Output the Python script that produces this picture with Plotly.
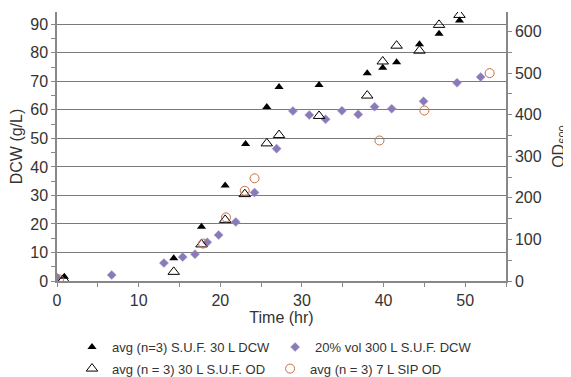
import plotly.graph_objects as go

# avg (n=3) S.U.F. 30 L DCW  (left axis)
suf_dcw_t = [0.9, 14.3, 17.7, 20.6, 23.1, 25.7, 27.2, 32.1, 38.0, 39.9, 41.6, 44.4, 46.8, 49.3]
suf_dcw_v = [1.5, 8.0, 19.0, 33.5, 48.0, 61.0, 68.0, 68.7, 72.8, 74.8, 76.7, 83.0, 86.7, 91.3]

# 20% vol 300 L S.U.F. DCW (left axis)
vol_dcw_t = [0.0, 6.7, 13.1, 15.4, 16.9, 18.4, 19.8, 21.9, 24.2, 26.9, 28.9, 30.9, 32.9, 34.9, 36.9, 38.9, 41.0, 44.9, 49.0, 51.9]
vol_dcw_v = [1.2, 2.1, 6.3, 8.4, 9.4, 13.6, 16.1, 20.7, 31.0, 46.4, 59.6, 58.2, 56.7, 59.7, 58.4, 61.1, 60.4, 63.0, 69.5, 71.5]

# avg (n = 3) 30 L S.U.F. OD (right axis)
suf_od_t = [0.8, 14.3, 17.7, 20.6, 23.0, 25.7, 27.2, 32.1, 38.0, 39.9, 41.6, 44.4, 46.8, 49.3]
suf_od_v = [4, 22, 88, 147, 209, 331, 351, 397, 446, 528, 566, 554, 616, 640]

# avg (n = 3) 7 L SIP OD (right axis)
sip_od_t = [0.25, 17.9, 20.7, 23.0, 24.2, 39.5, 45.0, 53.0]
sip_od_v = [4, 90, 153, 217, 247, 338, 410, 500]

FONT = "Liberation Sans"
TXT = "#333333"

fig = go.Figure()
fig.add_trace(go.Scatter(
    x=suf_dcw_t, y=suf_dcw_v, mode="markers", name="avg (n=3) S.U.F. 30 L DCW",
    marker=dict(symbol="triangle-up", size=8, color="black"), legend="legend"))
fig.add_trace(go.Scatter(
    x=vol_dcw_t, y=vol_dcw_v, mode="markers", name="20% vol 300 L S.U.F. DCW",
    marker=dict(symbol="diamond", size=7, color="#8a7ab8", line=dict(color="#a89ccc", width=0.5)),
    legend="legend"))
fig.add_trace(go.Scatter(
    x=suf_od_t, y=suf_od_v, mode="markers", name="avg (n = 3) 30 L S.U.F. OD", yaxis="y2",
    marker=dict(symbol="triangle-up-open", size=10, color="black", line=dict(width=1)),
    legend="legend2"))
fig.add_trace(go.Scatter(
    x=sip_od_t, y=sip_od_v, mode="markers", name="avg (n = 3) 7 L SIP OD", yaxis="y2",
    marker=dict(symbol="circle-open", size=9, color="#c8703f", line=dict(width=1)),
    legend="legend2"))

axis_common = dict(
    showline=True, linecolor="#888888", linewidth=1.5,
    ticks="outside", ticklen=4, tickcolor="#888888",
    tickfont=dict(family=FONT, size=16, color=TXT),
    zeroline=False,
)

leg_font = dict(family=FONT, size=13, color=TXT)

fig.update_layout(
    width=563, height=369,
    margin=dict(l=49, r=65, t=4, b=96, autoexpand=False),
    paper_bgcolor="white", plot_bgcolor="white",
    font=dict(family=FONT, color=TXT),
    xaxis=dict(range=[0, 55], tickvals=[0, 10, 20, 30, 40, 50],
               minor=dict(dtick=5, ticks="outside", ticklen=4, tickcolor="#888888"),
               showgrid=False,
               title=dict(text="Time (hr)", font=dict(family=FONT, size=16, color=TXT), standoff=2),
               **axis_common),
    yaxis=dict(range=[0, 94.3], tickvals=list(range(0, 100, 10)),
               minor=dict(dtick=5, ticks="outside", ticklen=4, tickcolor="#888888", showgrid=False),
               showgrid=True, gridcolor="#7a7a7a", gridwidth=1,
               title=dict(text="DCW (g/L)", font=dict(family=FONT, size=16, color=TXT), standoff=4),
               **axis_common),
    yaxis2=dict(range=[0, 647], overlaying="y", side="right",
                tickvals=list(range(0, 700, 100)),
                minor=dict(dtick=50, ticks="outside", ticklen=4, tickcolor="#888888", showgrid=False),
                showgrid=False,
                title=dict(text="OD<sub>600</sub>", font=dict(family=FONT, size=16, color=TXT), standoff=12),
                **axis_common),
    legend=dict(orientation="h", x=(72 - 57) / 449, xanchor="left", y=-0.19, yanchor="top",
                font=leg_font, itemwidth=30, tracegroupgap=0, bgcolor="rgba(0,0,0,0)"),
    legend2=dict(orientation="h", x=(72 - 57) / 449, xanchor="left", y=-0.27, yanchor="top",
                 font=leg_font, itemwidth=30, tracegroupgap=0, bgcolor="rgba(0,0,0,0)"),
    showlegend=True,
)

fig.write_html("out.html")
